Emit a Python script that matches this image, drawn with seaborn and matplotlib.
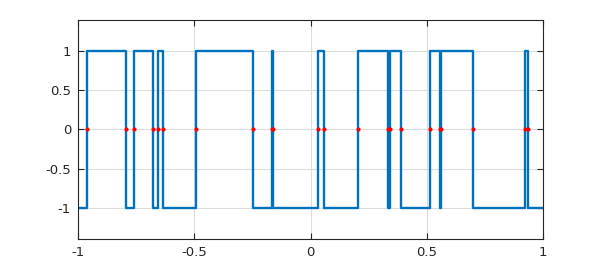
import numpy as np
import pandas as pd
import seaborn as sns
import matplotlib
matplotlib.use("Agg")
import matplotlib.pyplot as plt

# zero crossings of the square-wave signal
crossings = [-0.963, -0.795, -0.758, -0.679, -0.657, -0.636, -0.491, -0.246,
             -0.165, -0.160, 0.032, 0.057, 0.206, 0.333, 0.340, 0.389,
             0.514, 0.556, 0.560, 0.698, 0.921, 0.935]
start_level = -1
x_start, x_end = -1.0, 1.0
x_ticks = [-1, -0.5, 0, 0.5, 1]
x_tick_labels = ["-1", "-0.5", "0", "0.5", "1"]
y_ticks = [-1, -0.5, 0, 0.5, 1]
y_tick_labels = ["-1", "-0.5", "0", "0.5", "1"]

# build step signal
xs = [x_start]
ys = [start_level]
level = start_level
for c in crossings:
    xs += [c, c]
    ys += [level, -level]
    level = -level
xs.append(x_end)
ys.append(level)
sig = pd.DataFrame({"x": xs, "y": ys})
pts = pd.DataFrame({"x": crossings, "y": [0.0] * len(crossings)})

sns.set_style("white")
plt.rcParams["font.family"] = ["DejaVu Sans"]
fig = plt.figure(figsize=(6, 2.7), dpi=100)
ax = fig.add_axes([0.13, 0.115, 0.775, 0.811])

sns.lineplot(data=sig, x="x", y="y", sort=False, estimator=None, ax=ax,
             color="#0072BD", linewidth=1.7, zorder=2)
ax.plot(pts["x"], pts["y"], linestyle="none", marker="o", markersize=3,
        color="red", markeredgewidth=0, zorder=3)

ax.set_xlim(-1, 1)
ax.set_ylim(-1.4, 1.4)
ax.set_xticks(x_ticks)
ax.set_xticklabels(x_tick_labels)
ax.set_yticks(y_ticks)
ax.set_yticklabels(y_tick_labels)
ax.set_xlabel("")
ax.set_ylabel("")
ax.grid(True, color="#dcdcdc", linewidth=0.8)
ax.set_axisbelow(True)
ax.tick_params(direction="in", length=4, width=0.8, colors="#262626",
               labelsize=9.5, top=True, right=True, left=True, bottom=True,
               pad=5)
for s in ax.spines.values():
    s.set_color("#262626")
    s.set_linewidth(0.8)
    s.set_visible(True)

fig.savefig("out.png", dpi=100, facecolor="white")
